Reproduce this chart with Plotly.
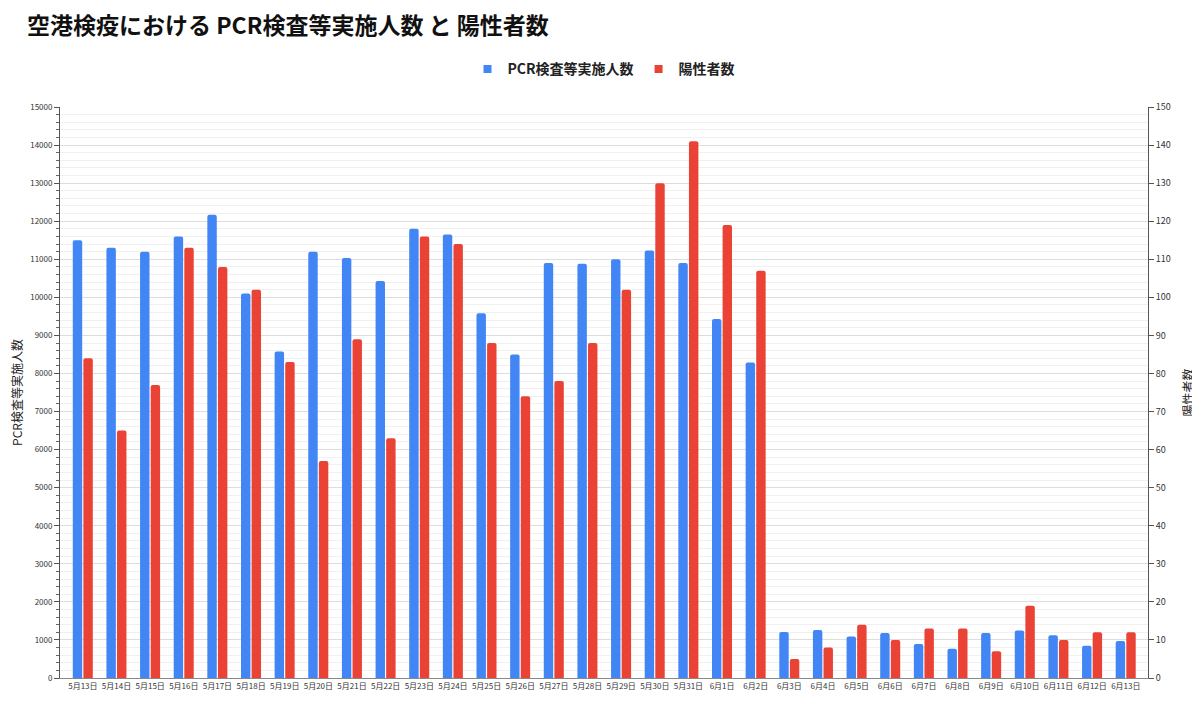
import plotly.graph_objects as go

dates = [
    '5月13日', '5月14日', '5月15日', '5月16日', '5月17日', '5月18日', '5月19日', '5月20日',
    '5月21日', '5月22日', '5月23日', '5月24日', '5月25日', '5月26日', '5月27日', '5月28日',
    '5月29日', '5月30日', '5月31日', '6月1日', '6月2日', '6月3日', '6月4日', '6月5日',
    '6月6日', '6月7日', '6月8日', '6月9日', '6月10日', '6月11日', '6月12日', '6月13日',
]

# PCR検査等実施人数 (left axis)
pcr_tests = [
    11500, 11300, 11200, 11600, 12170, 10100, 8580, 11200,
    11030, 10430, 11800, 11650, 9580, 8500, 10900, 10880,
    11000, 11230, 10900, 9430, 8290, 1210, 1260, 1090,
    1180, 890, 770, 1180, 1250, 1120, 850, 970,
]

# 陽性者数 (right axis)
positives = [
    84, 65, 77, 113, 108, 102, 83, 57,
    89, 63, 116, 114, 88, 74, 78, 88,
    102, 130, 141, 119, 107, 5, 8, 14,
    10, 13, 13, 7, 19, 10, 12, 12,
]

BLUE = '#4285F4'
RED = '#EA4335'
FONT = 'Noto Sans CJK JP, Roboto, Arial, sans-serif'

fig = go.Figure()
fig.add_trace(go.Bar(
    x=dates, y=pcr_tests, name='PCR検査等実施人数', showlegend=False,
    marker=dict(color=BLUE, cornerradius=2, line=dict(width=0)),
    width=0.28, offset=-0.30, yaxis='y'))
fig.add_trace(go.Bar(
    x=dates, y=positives, name='陽性者数', showlegend=False,
    marker=dict(color=RED, cornerradius=2, line=dict(width=0)),
    width=0.28, offset=0.015, yaxis='y2'))

# legend entries with small square markers
fig.add_trace(go.Scatter(
    x=[None], y=[None], mode='markers', name='<b>PCR検査等実施人数</b>',
    marker=dict(symbol='square', size=8, color=BLUE)))
fig.add_trace(go.Scatter(
    x=[None], y=[None], mode='markers', name='<b>陽性者数</b>',
    marker=dict(symbol='square', size=8, color=RED)))

# the page adds an 8px body margin, so the figure is sized to the visible area
fig.update_layout(
    width=1192, height=698,
    margin=dict(l=52, r=52, t=99, b=28, autoexpand=False),
    plot_bgcolor='white', paper_bgcolor='white',
    font=dict(family=FONT, color='#333'),
    title=dict(text='<b>空港検疫における PCR検査等実施人数 と 陽性者数</b>',
               x=0.016, xref='container', xanchor='left',
               y=0.974, yref='container', yanchor='middle',
               font=dict(size=23, color='#111')),
    legend=dict(orientation='h', x=0.5, xanchor='center', y=1.066, yanchor='middle',
                font=dict(size=14, color='#222'), itemwidth=30,
                traceorder='normal'),
    showlegend=True,
    barmode='overlay',
    xaxis=dict(
        range=[-0.68, 31.66], showgrid=False, zeroline=False,
        showline=True, linecolor='#888', linewidth=1,
        tickfont=dict(size=8, color='#333'), tickangle=0, ticks=''),
    yaxis=dict(
        range=[0, 15000], dtick=1000, tickformat='d',
        title=dict(text='PCR検査等実施人数', font=dict(size=12, color='#222'), standoff=12),
        showline=True, linecolor='#555', linewidth=1,
        ticks='outside', ticklen=5, tickcolor='#555',
        gridcolor='#dddddd', gridwidth=1, zeroline=False,
        tickfont=dict(size=8, color='#333'),
        minor=dict(dtick=200, showgrid=True, gridcolor='#f0f0f0',
                   ticks='outside', ticklen=3, tickcolor='#666')),
    yaxis2=dict(
        range=[0, 150], dtick=10, overlaying='y', side='right',
        title=dict(text='陽性者数', font=dict(size=12, color='#222'), standoff=14),
        showline=True, linecolor='#555', linewidth=1,
        ticks='outside', ticklen=5, tickcolor='#555',
        showgrid=False, zeroline=False,
        tickfont=dict(size=9, color='#333')),
)

fig.write_html('out.html')
